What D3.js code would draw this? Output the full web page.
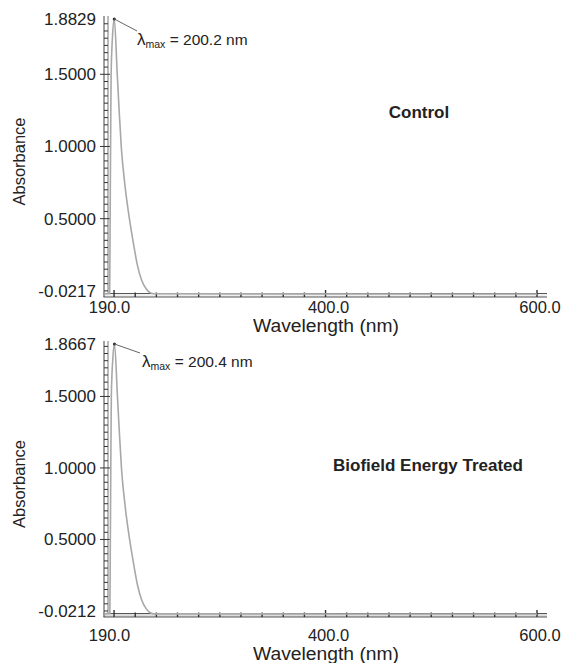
<!DOCTYPE html>
<html>
<head>
<meta charset="utf-8">
<script src="https://cdn.jsdelivr.net/npm/d3@7"></script>
<style>
body { margin: 0; background: #fff; }
text { font-family: "Liberation Sans", Arial, sans-serif; fill: #222; }
</style>
</head>
<body>
<div id="chart"></div>
<script>
// spectra: [wavelength nm, absorbance]
var controlSpectrum = [[190, -0.0217], [195.8, -0.018], [196.2, 0.4], [196.7, 1.0], [197.2, 1.5], [198.5, 1.76], [200.2, 1.8829],
    [203, 1.5], [204.8, 1.25], [206.8, 1.0], [210, 0.75], [214.5, 0.5], [218.5, 0.32], [222, 0.18], [226, 0.075],
    [230, 0.018], [234, -0.012], [238, -0.02], [600, -0.0217]];
var treatedSpectrum = [[190, -0.0212], [196, -0.017], [196.4, 0.4], [196.9, 1.0], [197.4, 1.5], [198.7, 1.75], [200.4, 1.8667],
    [203.2, 1.5], [205, 1.25], [207, 1.0], [210.2, 0.75], [214.7, 0.5], [218.7, 0.32], [222.2, 0.18], [226.2, 0.075],
    [230.2, 0.018], [234.2, -0.012], [238.2, -0.02], [600, -0.0212]];
var panelNames = ["Control", "Biofield Energy Treated"];
var lambdaMax = ["200.2", "200.4"];
var yMin = [-0.0217, -0.0212];
var yMax = [1.8829, 1.8667];
var yMajorTicks = [0.5, 1.0, 1.5];
var xLabelTicks = [190, 400, 600];
var xTitle = "Wavelength (nm)";
var yTitle = "Absorbance";

var W = 563, H = 663;
var svg = d3.select("#chart").append("svg").attr("width", W).attr("height", H);
svg.append("rect").attr("width", W).attr("height", H).attr("fill", "#fff");

var x = d3.scaleLinear().domain([190, 600]).range([103.5, 537]);
var xEnd = 547;

// per panel layout: pixel span of the y range, label offsets, name / annotation spots
var panels = [
    {top: 19, bottom: 294, tickDy: 18.5, titleDy: 38, nameX: 419, nameY: 118, annX: 137, annY: 45, annLine: [137, 31], band: "#efefef"},
    {top: 344, bottom: 614, tickDy: 26.5, titleDy: 46, nameX: 428, nameY: 471, annX: 142, annY: 367, annLine: [140, 353], band: "#dcdcdc"}
];
var spectra = [controlSpectrum, treatedSpectrum];

panels.forEach(function(p, i) {
    var g = svg.append("g").attr("class", "panel" + i);
    var y = d3.scaleLinear().domain([yMin[i], yMax[i]]).range([p.bottom, p.top]);
    var yb = p.bottom;

    // x axis drawn as a double line ladder
    g.append("rect").attr("x", x(190)).attr("y", yb - 0.5).attr("width", xEnd - x(190)).attr("height", 3.5).attr("fill", p.band);
    g.append("line").attr("x1", x(190)).attr("x2", xEnd).attr("y1", yb - 0.5).attr("y2", yb - 0.5).attr("stroke", "#555");
    g.append("line").attr("x1", x(190)).attr("x2", xEnd).attr("y1", yb + 3).attr("y2", yb + 3).attr("stroke", "#555");
    g.selectAll(".xt").data(d3.range(200, 601, 20)).enter().append("line").attr("class", "xt")
        .attr("x1", function(d) { return x(d); }).attr("x2", function(d) { return x(d); })
        .attr("y1", function(d) { return d % 200 == 0 ? yb - 4 : yb - 1.5; })
        .attr("y2", yb + 3).attr("stroke", "#333").attr("stroke-width", 1.4);

    // y axis double line ladder
    g.append("line").attr("x1", 104).attr("x2", 104).attr("y1", p.top - 3).attr("y2", yb + 3).attr("stroke", "#444");
    g.append("line").attr("x1", 108).attr("x2", 108).attr("y1", p.top - 3).attr("y2", yb).attr("stroke", "#777");
    var minor = d3.range(0, yMax[i], 0.05);
    g.selectAll(".yt").data(minor).enter().append("line").attr("class", "yt")
        .attr("x1", function(d) { return yMajorTicks.indexOf(+d.toFixed(2)) >= 0 ? 100 : 104; })
        .attr("x2", function(d) { return yMajorTicks.indexOf(+d.toFixed(2)) >= 0 ? 110 : 108; })
        .attr("y1", function(d) { return y(d); }).attr("y2", function(d) { return y(d); })
        .attr("stroke", "#333").attr("stroke-width", 1);

    // y tick labels
    var yLabels = [yMin[i]].concat(yMajorTicks).concat([yMax[i]]);
    g.selectAll(".yl").data(yLabels).enter().append("text").attr("class", "yl")
        .attr("x", 96).attr("y", function(d, k) { return y(d) + (k == 0 ? 3 : 6); })
        .attr("text-anchor", "end").attr("font-size", 17)
        .text(function(d) { return d.toFixed(4); });

    // x tick labels
    g.selectAll(".xl").data(xLabelTicks).enter().append("text").attr("class", "xl")
        .attr("x", function(d, k) { return x(d) + (k == 0 ? 6 : 3); }).attr("y", yb + p.tickDy)
        .attr("text-anchor", "middle").attr("font-size", 16.5)
        .text(function(d) { return d.toFixed(1); });

    g.append("text").attr("x", 326).attr("y", yb + p.titleDy).attr("text-anchor", "middle").attr("font-size", 17.5)
        .attr("textLength", 146).attr("lengthAdjust", "spacingAndGlyphs").text(xTitle);
    g.append("text").attr("transform", "translate(25," + ((p.top + yb) / 2 + 5) + ") rotate(-90)")
        .attr("text-anchor", "middle").attr("font-size", 16.5).text(yTitle);

    // spectrum
    var line = d3.line().x(function(d) { return x(d[0]); }).y(function(d) { return y(d[1]); }).curve(d3.curveMonotoneX);
    g.append("path").datum(spectra[i]).attr("d", line).attr("fill", "none").attr("stroke", "#a8a8a8").attr("stroke-width", 1.6);

    // lambda max marker and label
    var pk = spectra[i].filter(function(d) { return d[1] == yMax[i]; })[0];
    g.append("circle").attr("cx", x(pk[0])).attr("cy", y(pk[1])).attr("r", 1.6).attr("fill", "#333");
    g.append("line").attr("x1", x(pk[0])).attr("y1", y(pk[1])).attr("x2", p.annLine[0]).attr("y2", p.annLine[1])
        .attr("stroke", "#666").attr("stroke-width", 1);
    var t = g.append("text").attr("x", p.annX).attr("y", p.annY).attr("font-size", 15.5);
    t.append("tspan").attr("font-size", 17).text("λ");
    t.append("tspan").attr("font-size", 10.5).attr("dy", 3).text("max");
    t.append("tspan").attr("dy", -3).text(" = " + lambdaMax[i] + " nm");

    g.append("text").attr("x", p.nameX).attr("y", p.nameY).attr("text-anchor", "middle")
        .attr("font-size", 17).attr("font-weight", "bold").text(panelNames[i]);
});
</script>
</body>
</html>
